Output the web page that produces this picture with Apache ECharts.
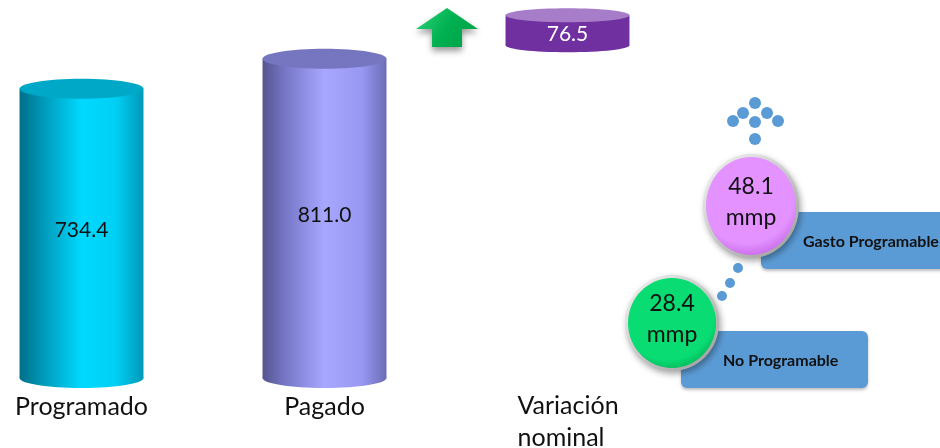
<!DOCTYPE html>
<html>
<head>
<meta charset="utf-8">
<script src="https://cdn.jsdelivr.net/npm/echarts@6/dist/echarts.min.js"></script>
<style>html,body{margin:0;padding:0;background:#fff}#c{width:940px;height:448px}</style>
</head>
<body>
<div id="c"></div>
<script>
const categories = ['Programado', 'Pagado', 'Variación\nnominal'];
const values = [734.4, 811.0, 76.5];
const breakdownLabels = ['Gasto Programable', 'No Programable'];
const breakdownValues = [48.1, 28.4];
const breakdownUnit = 'mmp';

const chart = echarts.init(document.getElementById('c'), null, {renderer: 'canvas'});
const FONT = 'Lato, "Open Sans", sans-serif';

const styles = [
  {side: [['0', '#006f89'], ['0.18', '#0097b6'], ['0.5', '#00d9ff'], ['0.78', '#00cff4'], ['1', '#0098b8']], top: '#00a8c8', text: '#111', ry: 10},
  {side: [['0', '#545490'], ['0.18', '#7676c6'], ['0.5', '#a7a7ff'], ['0.8', '#9898f2'], ['1', '#6c6cb6']], top: '#7676c0', text: '#111', ry: 10},
  {side: [['0', '#7030a0'], ['1', '#7030a0']], top: '#a77cc8', text: '#fff', ry: 7}
];
function grad(st) {
  return new echarts.graphic.LinearGradient(0, 0, 1, 0, st.map(s => ({offset: +s[0], color: s[1]})));
}
// variation disk floats above the "Pagado" bar
const GAP = 34;
const seriesData = values.map((v, i) => [i, i === 2 ? values[1] + GAP : 0, v]);

function renderItem(params, api) {
  const idx = api.value(0), base = api.value(1), val = api.value(2);
  const p0 = api.coord([idx, base]);
  const p1 = api.coord([idx, base + val]);
  const w = api.size([1, 0])[0] * 0.51;
  const cx = p0[0];
  const st = styles[idx];
  const ry = st.ry;
  const g = grad(st.side);
  const children = [
    {type: 'ellipse', shape: {cx: cx, cy: p0[1], rx: w / 2, ry: ry}, style: {fill: g}},
    {type: 'rect', shape: {x: cx - w / 2, y: p1[1], width: w, height: p0[1] - p1[1]}, style: {fill: g}},
    {type: 'ellipse', shape: {cx: cx, cy: p1[1], rx: w / 2, ry: ry}, style: {fill: st.top}},
    {type: 'text', style: {text: values[idx].toFixed(1), x: cx, y: (p0[1] + p1[1]) / 2 + (idx === 2 ? 4 : -3),
      align: 'center', verticalAlign: 'middle', fill: st.text, font: '21px ' + FONT}}
  ];
  return {type: 'group', children: children};
}

function bubble(cx, cy, rx, ry, c0, c1, val) {
  return [
    {type: 'ellipse', shape: {cx: cx, cy: cy, rx: rx + 3, ry: ry + 3}, style: {fill: new echarts.graphic.LinearGradient(0, 0, 1, 1, [{offset: 0, color: '#f6f6f6'}, {offset: 1, color: '#9a9a9a'}]), shadowBlur: 6, shadowColor: 'rgba(0,0,0,0.35)', shadowOffsetX: 2, shadowOffsetY: 3}},
    {type: 'ellipse', shape: {cx: cx, cy: cy, rx: rx, ry: ry}, style: {fill: new echarts.graphic.RadialGradient(0.45, 0.4, 0.7, [{offset: 0, color: c0}, {offset: 0.75, color: c0}, {offset: 1, color: c1}])}},
    {type: 'text', style: {text: val.toFixed(1) + '\n' + breakdownUnit, x: cx, y: cy - 4, align: 'center', verticalAlign: 'middle', fill: '#111', font: '23px ' + FONT, lineHeight: 31}}
  ];
}
function dot(x, y, r) {
  return {type: 'circle', shape: {cx: x, cy: y, r: r}, style: {fill: '#5b9bd5'}};
}
function box(x, y, w, h, txt, tx) {
  return [
    {type: 'rect', shape: {x: x, y: y, width: w, height: h, r: 6}, style: {fill: '#5b9bd5', shadowBlur: 3, shadowColor: 'rgba(0,0,0,0.25)', shadowOffsetY: 2}},
    {type: 'text', style: {text: txt, x: tx, y: y + h / 2 + 1, align: 'left', verticalAlign: 'middle', fill: '#111', font: 'bold 16px ' + FONT}}
  ];
}

const graphics = [].concat(
  [{type: 'polygon', shape: {points: [[447, 8], [478, 29], [462, 29], [462, 47], [432, 47], [432, 29], [416, 29]]},
    style: {fill: new echarts.graphic.LinearGradient(0, 0, 1, 1, [{offset: 0, color: '#2ed47a'}, {offset: 0.5, color: '#00b050'}, {offset: 1, color: '#00a046'}]),
      shadowBlur: 6, shadowColor: 'rgba(0,0,0,0.4)', shadowOffsetY: 4}}],
  box(761, 212, 200, 57, breakdownLabels[0], 803),
  box(681, 331, 187, 57, breakdownLabels[1], 723),
  [dot(755, 103, 6), dot(743, 113, 6), dot(767, 113, 6), dot(733, 121, 6), dot(778, 121, 6), dot(755, 122, 6), dot(755, 139, 6),
   dot(738, 268, 5), dot(730, 283, 5), dot(722, 296, 5)],
  bubble(751, 206, 45, 49, '#e392ff', '#c665e8', breakdownValues[0]),
  bubble(672, 323, 44, 45, '#08dc72', '#00a850', breakdownValues[1])
);

chart.setOption({
  animation: false,
  grid: {left: -40, width: 729, top: 0, bottom: 70, outerBoundsMode: 'none', containLabel: false},
  xAxis: {
    type: 'category', data: categories,
    axisLine: {show: false}, axisTick: {show: false},
    axisLabel: {
      margin: 12, color: '#111', fontFamily: FONT, fontSize: 25, lineHeight: 33, verticalAlign: 'top',
      formatter: v => v.indexOf('\n') >= 0 ? v.split('\n').map(s => '{l|' + s + '}').join('\n') : v,
      rich: {l: {width: 100, align: 'left', fontFamily: FONT, fontSize: 25, color: '#111', lineHeight: 32}}
    }
  },
  yAxis: {type: 'value', min: 0, max: 960, show: false, splitLine: {show: false}},
  series: [{type: 'custom', renderItem: renderItem, data: seriesData, clip: false}],
  graphic: graphics
});
</script>
</body>
</html>
